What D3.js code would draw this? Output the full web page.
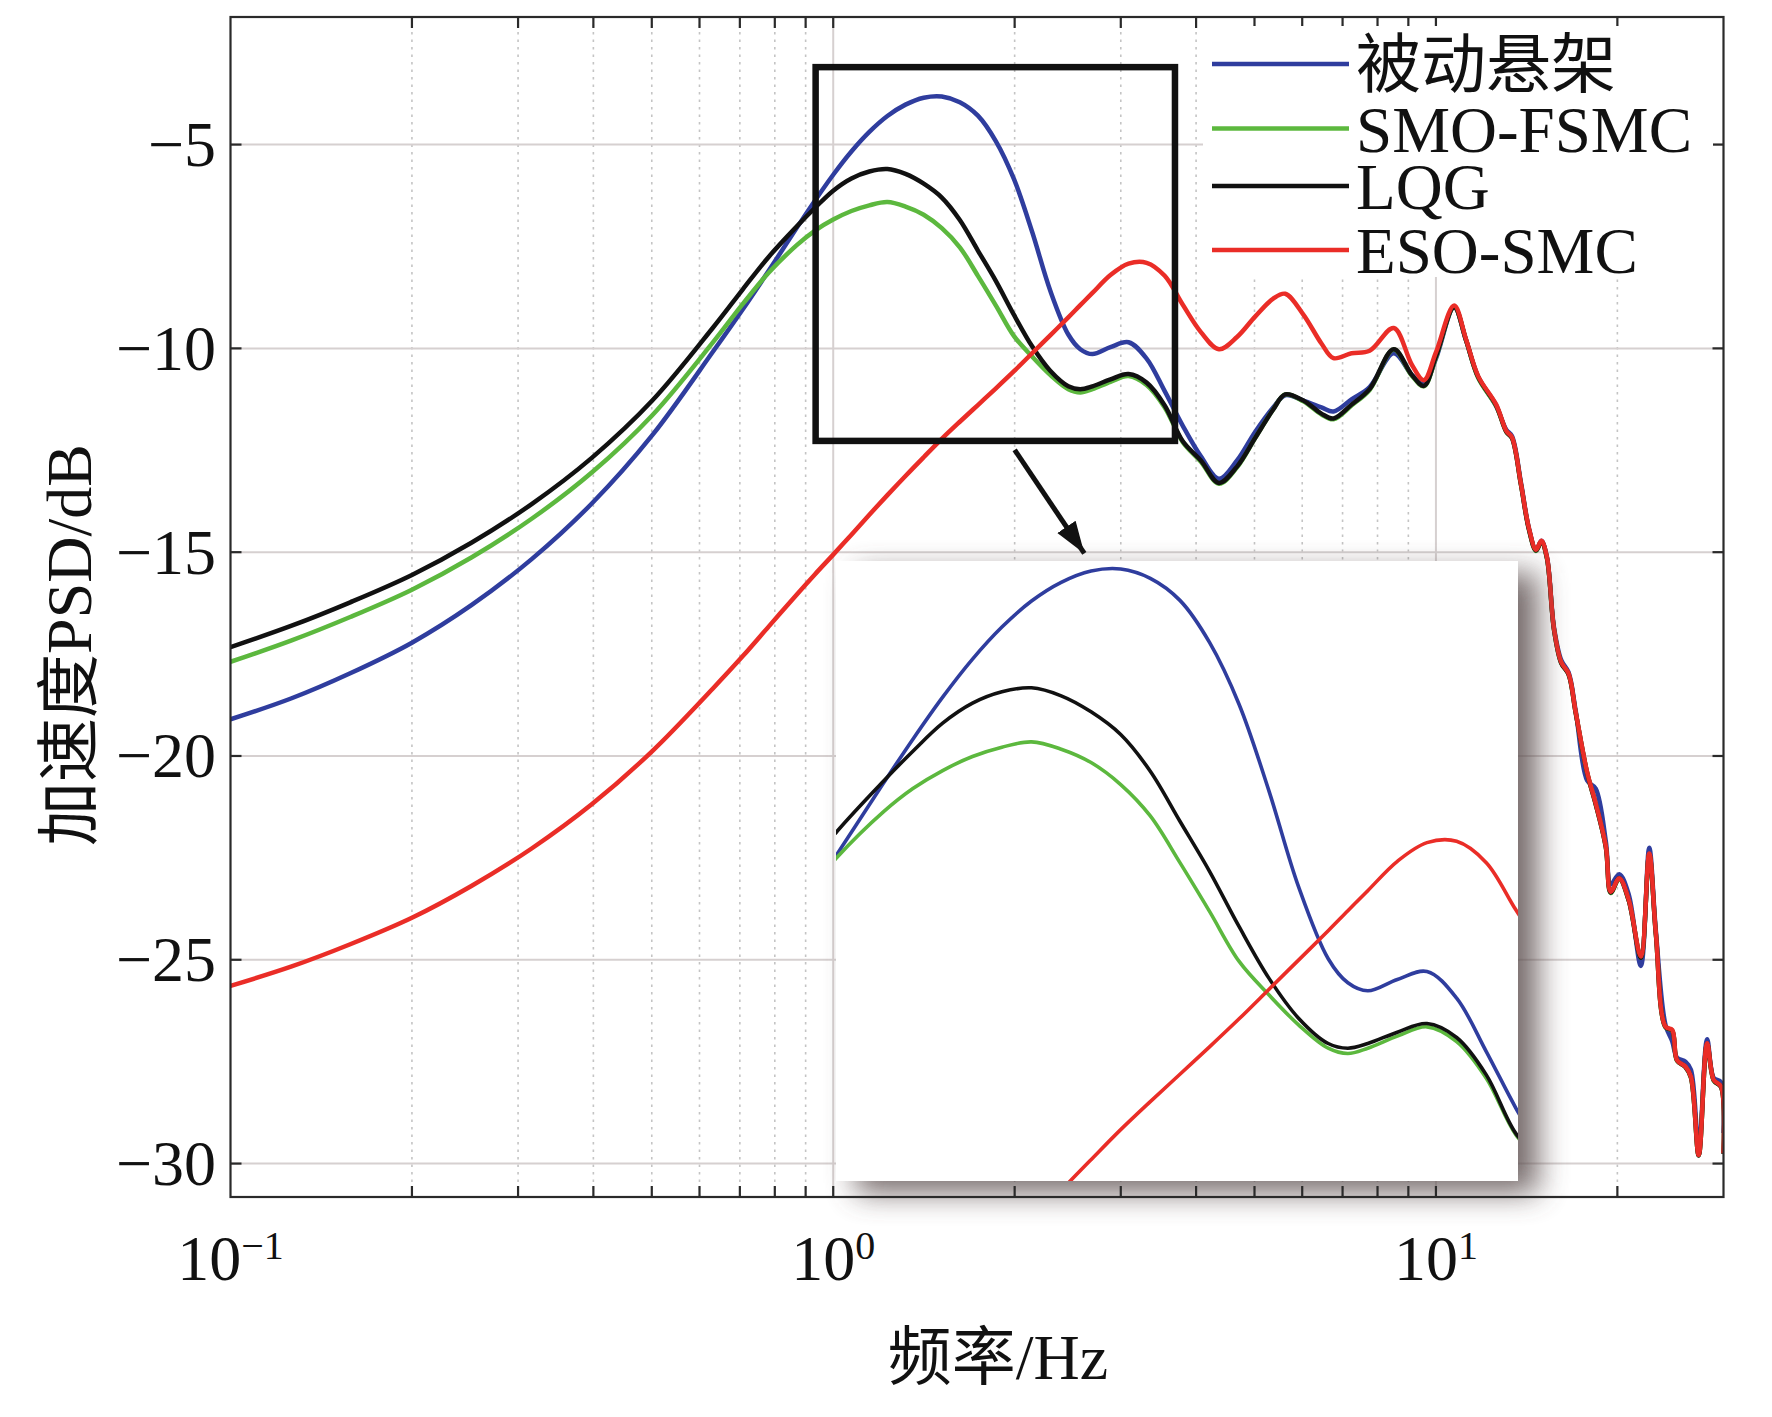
<!DOCTYPE html>
<html>
<head>
<meta charset="utf-8">
<title>加速度PSD</title>
<script src="https://d3js.org/d3.v7.min.js"></script>
<style>
body { margin: 0; background: #fff; }
text { font-family: "Liberation Serif", "Times New Roman", "Noto Sans CJK SC", serif; fill: #111; }
</style>
</head>
<body>
<script>

// frequency points (Hz)
var freqHz = [0.1, 0.126, 0.158, 0.2, 0.251, 0.316, 0.398, 0.501, 0.631, 0.708,
	0.782, 0.871, 0.933, 1.0, 1.072, 1.148, 1.23, 1.318, 1.413, 1.514,
	1.622, 1.738, 1.862, 1.995, 2.138, 2.291, 2.455, 2.57, 2.692, 2.884,
	3.09, 3.311, 3.548, 3.802, 4.074, 4.365, 4.677, 5.012, 5.37, 5.623,
	6.026, 6.457, 6.761, 7.244, 7.762, 8.511, 9.12, 9.55, 10.0, 10.72,
	11.22, 11.75, 12.59, 13.09, 13.37, 13.84, 14.26, 14.66, 14.96, 15.28,
	15.7, 16.14, 16.6, 17.06, 17.82, 18.41, 19.14, 19.5, 20.14, 20.89,
	21.88, 22.59, 23.17, 24.04, 24.66, 25.12, 25.94, 26.49, 27.29, 28.18,
	28.91, 29.72, 30.0];

// PSD (dB) per series
var passive = [-19.1, -18.59, -17.97, -17.22, -16.3, -15.17, -13.8, -12.13, -10.09, -9.04,
	-8.09, -7.03, -6.37, -5.74, -5.17, -4.69, -4.3, -4.02, -3.85, -3.82,
	-3.96, -4.29, -4.92, -5.85, -7.14, -8.58, -9.66, -10.02, -10.14, -9.97,
	-9.85, -10.25, -11.05, -11.9, -12.65, -13.2, -12.75, -12.05, -11.45, -11.15,
	-11.28, -11.45, -11.55, -11.25, -10.95, -10.12, -10.65, -10.88, -10.25, -8.99,
	-9.8, -10.7, -11.42, -12.0, -12.15, -13.3, -14.4, -14.95, -14.72, -15.12,
	-16.85, -17.65, -17.95, -18.9, -20.6, -20.8, -22.1, -23.15, -22.9, -23.4,
	-25.15, -22.25, -24.3, -26.6, -27.0, -27.4, -27.5, -27.7, -29.6, -26.95,
	-27.9, -28.0, -29.25];

var smoFsmc = [-17.69, -17.17, -16.59, -15.92, -15.13, -14.18, -13.04, -11.64, -9.86, -8.91,
	-8.14, -7.46, -7.11, -6.84, -6.63, -6.49, -6.41, -6.52, -6.72, -7.05,
	-7.52, -8.22, -8.95, -9.7, -10.2, -10.65, -11.0, -11.08, -11.0, -10.82,
	-10.68, -10.9, -11.45, -12.3, -12.78, -13.32, -12.92, -12.2, -11.5, -11.13,
	-11.3, -11.62, -11.74, -11.4, -11.02, -10.03, -10.67, -10.93, -10.22, -8.99,
	-9.8, -10.72, -11.42, -12.05, -12.2, -13.35, -14.43, -14.97, -14.75, -15.15,
	-16.9, -17.72, -18.0, -18.95, -20.42, -21.18, -22.24, -23.36, -23.02, -23.55,
	-24.95, -22.42, -24.38, -26.66, -26.74, -27.48, -27.63, -27.9, -29.8, -27.08,
	-27.97, -28.12, -29.76];

var lqg = [-17.33, -16.81, -16.23, -15.56, -14.77, -13.82, -12.68, -11.28, -9.5, -8.55,
	-7.75, -7.0, -6.55, -6.13, -5.83, -5.66, -5.6, -5.72, -5.96, -6.3,
	-6.85, -7.6, -8.35, -9.18, -9.95, -10.55, -10.93, -11.0, -10.93, -10.76,
	-10.63, -10.84, -11.4, -12.28, -12.75, -13.3, -12.9, -12.2, -11.5, -11.13,
	-11.28, -11.6, -11.72, -11.38, -11.0, -10.02, -10.65, -10.92, -10.2, -8.99,
	-9.8, -10.7, -11.4, -12.05, -12.2, -13.35, -14.43, -14.96, -14.74, -15.14,
	-16.9, -17.72, -18.0, -18.95, -20.42, -21.18, -22.24, -23.35, -23.0, -23.55,
	-24.95, -22.42, -24.37, -26.65, -26.74, -27.47, -27.63, -27.88, -29.8, -27.06,
	-27.96, -28.12, -29.76];

var esoSmc = [-25.64, -25.17, -24.62, -23.97, -23.19, -22.27, -21.18, -19.88, -18.35, -17.55,
	-16.82, -16.03, -15.54, -15.06, -14.57, -14.08, -13.6, -13.13, -12.67, -12.22,
	-11.8, -11.39, -10.98, -10.56, -10.12, -9.68, -9.24, -8.94, -8.64, -8.2,
	-7.92, -7.9, -8.22, -8.93, -9.6, -10.02, -9.72, -9.22, -8.78, -8.66,
	-9.17, -9.88, -10.24, -10.12, -10.06, -9.5, -10.4, -10.78, -10.1, -8.95,
	-9.78, -10.68, -11.38, -12.03, -12.18, -13.33, -14.4, -14.94, -14.72, -15.12,
	-16.88, -17.7, -17.98, -18.93, -20.4, -21.16, -22.22, -23.33, -23.0, -23.53,
	-24.92, -22.39, -24.35, -26.64, -26.72, -27.46, -27.62, -27.87, -29.79, -27.05,
	-27.95, -28.11, -29.75];

var seriesNames = ["被动悬架", "SMO-FSMC", "LQG", "ESO-SMC"];
var yTicks = [-30, -25, -20, -15, -10, -5];
var xTickBase = ["10", "10", "10"];
var xTickExp = ["−1", "0", "1"];
var xTickHz = [0.1, 1, 10];

// zoom window and arrow, in data units
var zoomBoxHz = [0.935, 3.69];
var zoomBoxDb = [-3.1, -12.27];
var arrowHz = [2.0, 2.61];
var arrowDb = [-12.49, -15.03];
var insetHz = [0.78, 3.82];
var insetDb = [-12.99, -3.70];


var W = 1772, H = 1417;
var pL = 230.5, pR = 1723.5, pT = 17, pB = 1197;

var svg = d3.select("body")
	.append("svg")
	.attr("width", W)
	.attr("height", H);

var x = d3.scaleLog().domain([0.1, 30]).range([pL, pR]);
var y = d3.scaleLinear().domain([-30.82, -1.87]).range([pB, pT]);

var colors = ["#2f3d9e", "#5cb83e", "#111111", "#ea2d27"];
var allSeries = [passive, smoFsmc, lqg, esoSmc];

var defs = svg.append("defs");
defs.append("clipPath").attr("id", "plotClip")
	.append("rect")
	.attr("x", pL).attr("y", pT)
	.attr("width", pR - pL).attr("height", pB - pT);

// grid
var logTicks = x.ticks();
function isDecade(t){
	var l = Math.log10(t);
	return Math.abs(l - Math.round(l)) < 1e-6;
}
var innerTicks = logTicks.filter(function(t){ return t > 0.1 && t < 30; });
var grid = svg.append("g");
grid.selectAll("line.v")
	.data(innerTicks)
	.enter()
	.append("line")
	.attr("x1", function(d){ return x(d); })
	.attr("x2", function(d){ return x(d); })
	.attr("y1", pT).attr("y2", pB)
	.attr("stroke", function(d){ return isDecade(d) ? "#d6d0d0" : "#c4c4c4"; })
	.attr("stroke-width", function(d){ return isDecade(d) ? 2 : 1.6; })
	.attr("stroke-dasharray", function(d){ return isDecade(d) ? null : "2.5,5"; });
grid.selectAll("line.h")
	.data(yTicks)
	.enter()
	.append("line")
	.attr("x1", pL).attr("x2", pR)
	.attr("y1", function(d){ return y(d); })
	.attr("y2", function(d){ return y(d); })
	.attr("stroke", "#d6d0d0")
	.attr("stroke-width", 2);

// main curves
var line = d3.line()
	.x(function(d, i){ return x(freqHz[i]); })
	.y(function(d){ return y(d); })
	.curve(d3.curveCatmullRom.alpha(0.5));

var curves = svg.append("g").attr("clip-path", "url(#plotClip)");
curves.selectAll("path")
	.data(allSeries)
	.enter()
	.append("path")
	.attr("d", line)
	.attr("fill", "none")
	.attr("stroke", function(d, i){ return colors[i]; })
	.attr("stroke-width", 4.5)
	.attr("stroke-linejoin", "round");

// zoom window
svg.append("rect")
	.attr("x", x(zoomBoxHz[0]))
	.attr("y", y(zoomBoxDb[0]))
	.attr("width", x(zoomBoxHz[1]) - x(zoomBoxHz[0]))
	.attr("height", y(zoomBoxDb[1]) - y(zoomBoxDb[0]))
	.attr("fill", "none")
	.attr("stroke", "#111")
	.attr("stroke-width", 6.5);

// arrow
defs.append("marker")
	.attr("id", "head")
	.attr("markerUnits", "userSpaceOnUse")
	.attr("markerWidth", 34).attr("markerHeight", 24)
	.attr("refX", 32).attr("refY", 12)
	.attr("orient", "auto")
	.append("path")
	.attr("d", "M0,1 L32,12 L0,23 Z")
	.attr("fill", "#111");
svg.append("line")
	.attr("x1", x(arrowHz[0])).attr("y1", y(arrowDb[0]))
	.attr("x2", x(arrowHz[1])).attr("y2", y(arrowDb[1]))
	.attr("stroke", "#111")
	.attr("stroke-width", 5)
	.attr("marker-end", "url(#head)");

// inset with drop shadow
var ix0 = 836, ix1 = 1518, iy0 = 561, iy1 = 1181;
var xi = d3.scaleLog().domain(insetHz).range([ix0, ix1]);
var yi = d3.scaleLinear().domain(insetDb).range([iy1, iy0]);

var blur = defs.append("filter").attr("id", "blur")
	.attr("x", "-20%").attr("y", "-20%").attr("width", "140%").attr("height", "140%");
blur.append("feGaussianBlur").attr("stdDeviation", 15);
defs.append("clipPath").attr("id", "insetClip")
	.append("rect")
	.attr("x", ix0).attr("y", iy0)
	.attr("width", ix1 - ix0).attr("height", iy1 - iy0);

svg.append("rect")
	.attr("x", ix0 + 20).attr("y", iy0 + 12)
	.attr("width", ix1 - ix0).attr("height", iy1 - iy0)
	.attr("fill", "#5e5151")
	.attr("opacity", 0.85)
	.attr("filter", "url(#blur)");
svg.append("rect")
	.attr("x", ix0).attr("y", iy0)
	.attr("width", ix1 - ix0).attr("height", iy1 - iy0)
	.attr("fill", "#fff");

var lineInset = d3.line()
	.x(function(d, i){ return xi(freqHz[i]); })
	.y(function(d){ return yi(d); })
	.curve(d3.curveCatmullRom.alpha(0.5));

svg.append("g").attr("clip-path", "url(#insetClip)")
	.selectAll("path")
	.data(allSeries)
	.enter()
	.append("path")
	.attr("d", lineInset)
	.attr("fill", "none")
	.attr("stroke", function(d, i){ return colors[i]; })
	.attr("stroke-width", 3.6);

// axes frame and ticks
var axis = svg.append("g").attr("stroke", "#2a2a2a").attr("stroke-width", 2.2);
axis.append("rect")
	.attr("x", pL).attr("y", pT)
	.attr("width", pR - pL).attr("height", pB - pT)
	.attr("fill", "none");
var tl = 11;
axis.selectAll("line.xb")
	.data(innerTicks)
	.enter()
	.append("line")
	.attr("x1", function(d){ return x(d); })
	.attr("x2", function(d){ return x(d); })
	.attr("y1", pB).attr("y2", pB - tl);
axis.selectAll("line.xt")
	.data(innerTicks)
	.enter()
	.append("line")
	.attr("x1", function(d){ return x(d); })
	.attr("x2", function(d){ return x(d); })
	.attr("y1", pT).attr("y2", pT + tl);
axis.selectAll("line.yl")
	.data(yTicks)
	.enter()
	.append("line")
	.attr("x1", pL).attr("x2", pL + tl)
	.attr("y1", function(d){ return y(d); })
	.attr("y2", function(d){ return y(d); });
axis.selectAll("line.yr")
	.data(yTicks)
	.enter()
	.append("line")
	.attr("x1", pR).attr("x2", pR - tl)
	.attr("y1", function(d){ return y(d); })
	.attr("y2", function(d){ return y(d); });

// tick labels
svg.selectAll("text.ytick")
	.data(yTicks)
	.enter()
	.append("text")
	.attr("x", 216)
	.attr("y", function(d){ return y(d) + 21.5; })
	.attr("text-anchor", "end")
	.attr("font-size", 64)
	.text(function(d){ return "\u2212" + Math.abs(d); });

var xl = svg.selectAll("text.xtick")
	.data(xTickHz)
	.enter()
	.append("text")
	.attr("x", function(d){ return x(d); })
	.attr("y", 1280)
	.attr("text-anchor", "middle")
	.attr("font-size", 64);
xl.append("tspan").text(function(d, i){ return xTickBase[i]; });
xl.append("tspan")
	.attr("font-size", 40)
	.attr("dy", -21)
	.text(function(d, i){ return xTickExp[i]; });

// axis titles
svg.append("text")
	.attr("x", 998).attr("y", 1379)
	.attr("text-anchor", "middle")
	.attr("font-size", 64)
	.text("频率/Hz");
svg.append("text")
	.attr("transform", "translate(91,645) rotate(-90)")
	.attr("text-anchor", "middle")
	.attr("font-size", 64)
	.text("加速度PSD/dB");

// legend
var legendRows = [64, 128.5, 186, 250];
svg.append("rect")
	.attr("x", 1203).attr("y", 26)
	.attr("width", 510).attr("height", 251)
	.attr("fill", "#fff");
var lg = svg.append("g");
lg.selectAll("line")
	.data(seriesNames)
	.enter()
	.append("line")
	.attr("x1", 1212).attr("x2", 1349)
	.attr("y1", function(d, i){ return legendRows[i]; })
	.attr("y2", function(d, i){ return legendRows[i]; })
	.attr("stroke", function(d, i){ return colors[i]; })
	.attr("stroke-width", 4.5);
lg.selectAll("text")
	.data(seriesNames)
	.enter()
	.append("text")
	.attr("x", 1356)
	.attr("y", function(d, i){ return legendRows[i] + 23; })
	.attr("font-size", 65)
	.text(function(d){ return d; });

</script>
</body>
</html>
